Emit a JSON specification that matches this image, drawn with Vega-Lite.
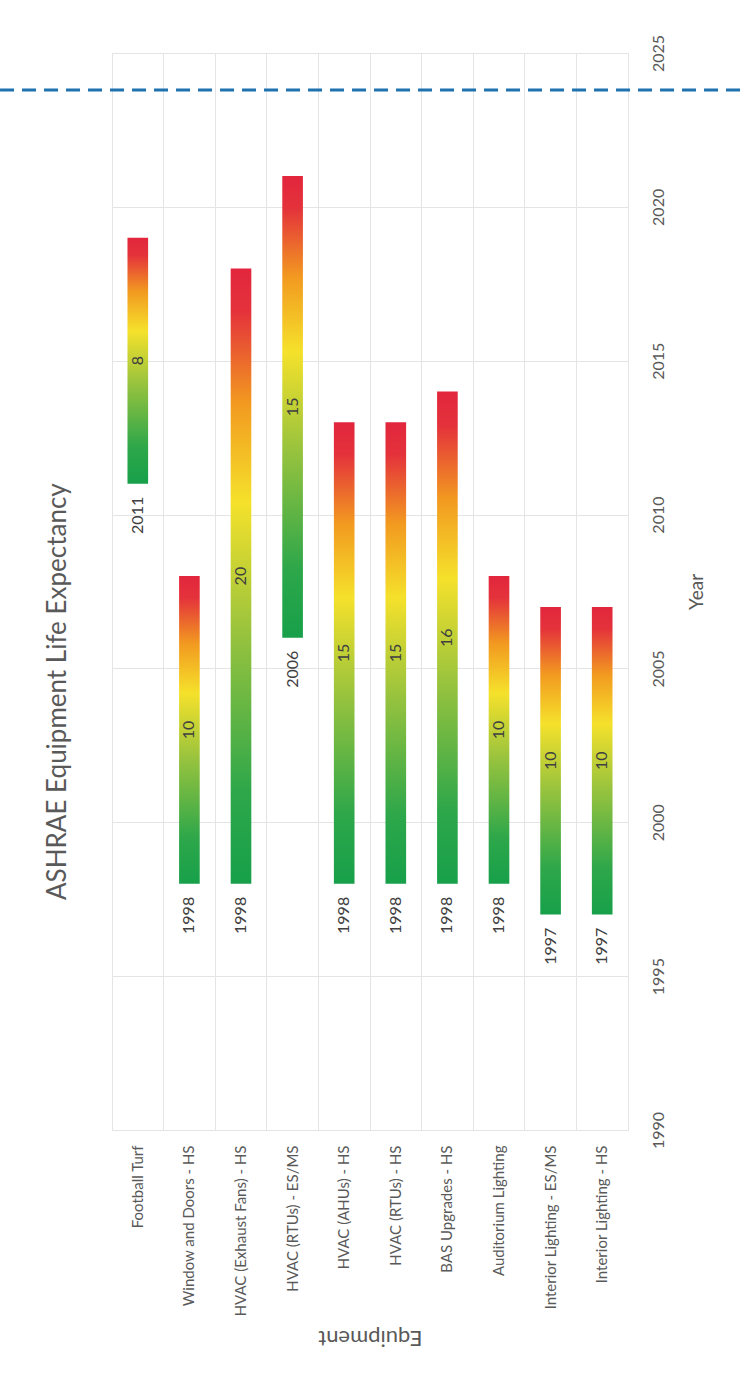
{
  "$schema": "https://vega.github.io/schema/vega-lite/v6.json",
  "autosize": {"type": "none"},
  "padding": {"left": 112, "top": 53, "right": 116, "bottom": 244},
  "width": 516,
  "height": 1077,
  "background": "white",
  "config": {
    "font": "Lato",
    "view": {"stroke": "#e4e4e4"},
    "axis": {"labelColor": "#595959", "titleColor": "#595959", "titleFontWeight": "normal"}
  },
  "title": {
    "text": "ASHRAE Equipment Life Expectancy",
    "orient": "left",
    "anchor": "middle",
    "frame": "bounds",
    "fontSize": 26,
    "fontWeight": "normal",
    "color": "#595959",
    "offset": -72
  },
  "datasets": {
    "items": [
      {"equipment": "Football Turf", "start": 2011, "end": 2019, "life": 8},
      {"equipment": "Window and Doors - HS", "start": 1998, "end": 2008, "life": 10},
      {"equipment": "HVAC (Exhaust Fans) - HS", "start": 1998, "end": 2018, "life": 20},
      {"equipment": "HVAC (RTUs) - ES/MS", "start": 2006, "end": 2021, "life": 15},
      {"equipment": "HVAC (AHUs) - HS", "start": 1998, "end": 2013, "life": 15},
      {"equipment": "HVAC (RTUs) - HS", "start": 1998, "end": 2013, "life": 15},
      {"equipment": "BAS Upgrades - HS", "start": 1998, "end": 2014, "life": 16},
      {"equipment": "Auditorium Lighting", "start": 1998, "end": 2008, "life": 10},
      {"equipment": "Interior Lighting - ES/MS", "start": 1997, "end": 2007, "life": 10},
      {"equipment": "Interior Lighting - HS", "start": 1997, "end": 2007, "life": 10}
    ],
    "marker": [
      {"year": 2023.8, "from": -0.217, "to": 1.23}
    ]
  },
  "layer": [
    {
      "data": {"name": "items"},
      "encoding": {
        "x": {
          "field": "equipment",
          "type": "nominal",
          "sort": null,
          "scale": {"paddingInner": 0, "paddingOuter": 0},
          "axis": {
            "orient": "bottom",
            "labelAngle": 270,
            "labelAlign": "right",
            "labelBaseline": "middle",
            "labelPadding": 15,
            "labelFontSize": 15,
            "labelLimit": 300,
            "domain": false,
            "ticks": false,
            "grid": true,
            "bandPosition": 0,
            "gridColor": "#e4e4e4",
            "title": "Equipment",
            "titleAngle": 180,
            "titleFontSize": 22,
            "titlePadding": 32
          }
        },
        "y": {
          "field": "start",
          "type": "quantitative",
          "title": "Year",
          "scale": {"domain": [1990, 2025], "nice": false, "zero": false},
          "axis": {
            "orient": "right",
            "values": [1990, 1995, 2000, 2005, 2010, 2015, 2020, 2025],
            "format": "d",
            "labelAngle": 270,
            "labelAlign": "center",
            "labelBaseline": "top",
            "labelPadding": 22,
            "labelFontSize": 16,
            "domain": false,
            "ticks": false,
            "grid": true,
            "gridColor": "#e4e4e4",
            "titleAngle": 270,
            "titleFontSize": 19,
            "titlePadding": 40
          }
        }
      },
      "layer": [
        {
          "mark": {
            "type": "bar",
            "width": {"band": 0.4},
            "color": {
              "gradient": "linear",
              "x1": 0, "y1": 1, "x2": 0, "y2": 0,
              "stops": [
                {"offset": 0, "color": "#17a04a"},
                {"offset": 0.15, "color": "#2ea74a"},
                {"offset": 0.4, "color": "#95c23e"},
                {"offset": 0.62, "color": "#f5e12b"},
                {"offset": 0.78, "color": "#f29a20"},
                {"offset": 0.93, "color": "#e4323b"},
                {"offset": 1, "color": "#e2263d"}
              ]
            }
          },
          "encoding": {"y2": {"field": "end"}}
        },
        {
          "mark": {"type": "text", "angle": 270, "align": "right", "baseline": "middle", "dx": -13, "fontSize": 16, "color": "#404040"},
          "encoding": {
            "text": {"field": "start", "type": "quantitative", "format": "d"}
          }
        },
        {
          "transform": [{"calculate": "(datum.start + datum.end) / 2", "as": "mid"}],
          "mark": {"type": "text", "angle": 270, "align": "center", "baseline": "middle", "fontSize": 16, "color": "#404040"},
          "encoding": {
            "y": {"field": "mid", "type": "quantitative", "title": "Year"},
            "text": {"field": "life", "type": "quantitative", "format": "d"}
          }
        }
      ]
    },
    {
      "data": {"name": "marker"},
      "mark": {"type": "rule", "color": "#1f72b0", "strokeWidth": 3, "strokeDash": [14, 8], "clip": false},
      "encoding": {
        "x": {"field": "from", "type": "quantitative", "scale": {"domain": [0, 1], "nice": false, "zero": false}, "axis": null},
        "x2": {"field": "to"},
        "y": {"field": "year", "type": "quantitative", "title": "Year"}
      }
    }
  ],
  "resolve": {"scale": {"x": "independent"}}
}
